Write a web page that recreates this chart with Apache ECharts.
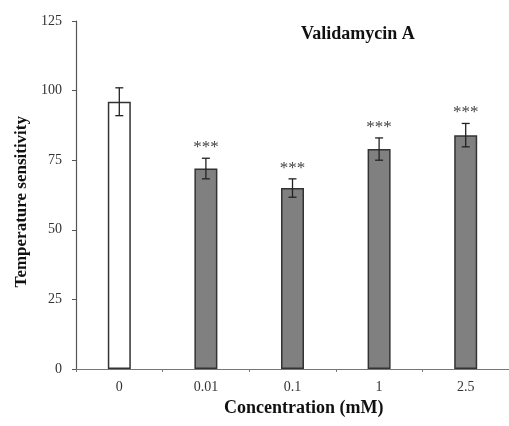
<!DOCTYPE html>
<html>
<head>
<meta charset="utf-8">
<script src="https://cdn.jsdelivr.net/npm/echarts@6/dist/echarts.min.js"></script>
<style>
  html, body { margin: 0; padding: 0; background: #fff; }
  #chart { width: 509px; height: 426px; }
</style>
</head>
<body>
<div id="chart"></div>
<script>
const categories = ['0', '0.01', '0.1', '1', '2.5']
const means = [96, 72, 65, 79, 84]
const errors = [5, 3.7, 3.3, 4, 4.2]
const marks = ['', '***', '***', '***', '***']
const barColors = ['#ffffff', '#808080', '#808080', '#808080', '#808080']
const yTicks = [0, 25, 50, 75, 100, 125]

const serif = '"Liberation Serif", "DejaVu Serif", serif'

const chart = echarts.init(document.getElementById('chart'))

const option = {
  animation: false,
  backgroundColor: '#fff',
  title: {
    text: 'Validamycin A',
    left: 296,
    top: 20,
    textStyle: { fontFamily: serif, fontWeight: 'bold', fontSize: 18, color: '#111' }
  },
  grid: { left: 76, top: 21, width: 445, height: 348 },
  xAxis: {
    type: 'category',
    data: categories,
    axisLine: { lineStyle: { color: '#777', width: 1 } },
    axisTick: { show: true, length: 3, lineStyle: { color: '#777' } },
    axisLabel: { fontFamily: serif, fontSize: 14, color: '#333', margin: 11 }
  },
  yAxis: {
    type: 'value',
    min: yTicks[0],
    max: yTicks[yTicks.length - 1],
    interval: 25,
    axisLine: { show: true, lineStyle: { color: '#555', width: 1.2 } },
    axisTick: { show: true, length: 4, lineStyle: { color: '#555' } },
    axisLabel: { fontFamily: serif, fontSize: 14, color: '#333', margin: 14 },
    splitLine: { show: false }
  },
  graphic: [
    {
      type: 'text',
      left: 13,
      top: 116,
      rotation: Math.PI / 2,
      style: {
        text: 'Temperature sensitivity',
        font: 'bold 17px ' + serif,
        fill: '#111'
      }
    },
    {
      type: 'text',
      left: 224,
      top: 399,
      style: {
        text: 'Concentration (mM)',
        font: 'bold 18px ' + serif,
        fill: '#111'
      }
    }
  ],
  series: [
    {
      type: 'bar',
      data: means.map((v, i) => ({
        value: v,
        itemStyle: { color: barColors[i] }
      })),
      barWidth: 23,
      itemStyle: { borderColor: '#333', borderWidth: 1.5 }
    },
    {
      type: 'custom',
      data: means.map((v, i) => [i, v, errors[i], marks[i]]),
      renderItem: (params, api) => {
        const x = api.value(0)
        const m = api.value(1)
        const e = api.value(2)
        const hi = api.coord([x, m + e])
        const lo = api.coord([x, m - e])
        const cap = 4
        const style = { stroke: '#222', lineWidth: 1.3 }
        const children = [
          { type: 'line', shape: { x1: hi[0], y1: hi[1], x2: lo[0], y2: lo[1] }, style },
          { type: 'line', shape: { x1: hi[0] - cap, y1: hi[1], x2: hi[0] + cap, y2: hi[1] }, style },
          { type: 'line', shape: { x1: lo[0] - cap, y1: lo[1], x2: lo[0] + cap, y2: lo[1] }, style }
        ]
        const mark = marks[params.dataIndex]
        if (mark) {
          children.push({
            type: 'text',
            style: {
              text: mark,
              x: hi[0],
              y: hi[1] - 2,
              align: 'center',
              verticalAlign: 'bottom',
              font: '17px ' + serif,
              fill: '#444'
            }
          })
        }
        return { type: 'group', children }
      },
      z: 5
    }
  ]
}

chart.setOption(option)
window.addEventListener('resize', () => chart.resize())
</script>
</body>
</html>
